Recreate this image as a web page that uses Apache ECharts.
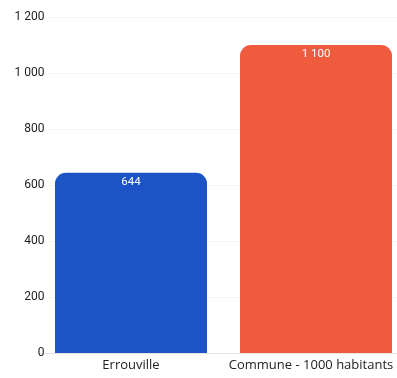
<!DOCTYPE html>
<html>
<head>
<meta charset="UTF-8">
<script type="text/javascript" src="https://cdn.jsdelivr.net/npm/echarts@6/dist/echarts.min.js"></script>
<title>Errouville</title>
<style>body{margin:0;background:#fff;}</style>
</head>
<body>
	<div id="main" style="width:397px;height:378px;"></div>
	<script type="text/javascript">
		var categories = ['Errouville', 'Commune - 1000 habitants'];
		var values = [644, 1100];
		var barColors = ['#1c54c6', '#ee5b3d'];
		var yTicks = [0, 200, 400, 600, 800, 1000, 1200];

		function fmt(v) {
			return String(v).replace(/\B(?=(\d{3})+(?!\d))/g, ' ');
		}

		var myChart = echarts.init(document.getElementById('main'));
		var option = {
			animation: false,
			grid: { left: 38.5, top: 17, right: -11.5, bottom: 25, outerBoundsMode: 'none', containLabel: false },
			xAxis: {
				type: 'category',
				// last label nudged left so it stays inside the canvas
				data: categories.map(function (c, i) {
					return i === categories.length - 1 ? { value: c, textStyle: { padding: [0, 10, 0, 0] } } : c;
				}),
				axisTick: { show: false },
				axisLine: { lineStyle: { color: '#e6e6e6' } },
				axisLabel: {
					interval: 0, hideOverlap: false,
					color: '#222', fontSize: 13, fontFamily: 'Open Sans', margin: 6
				}
			},
			yAxis: {
				type: 'value',
				min: yTicks[0],
				max: yTicks[yTicks.length - 1],
				interval: 200,
				axisLine: { show: false },
				axisTick: { show: false },
				splitLine: { lineStyle: { color: '#f5f5f5' } },
				axisLabel: {
					color: '#222', fontSize: 12, fontFamily: 'Roboto', margin: -6,
					formatter: function (v) { return fmt(v); }
				}
			},
			series: [{
				type: 'bar',
				barWidth: 152,
				data: values.map(function (v, i) {
					return { value: v, itemStyle: { color: barColors[i] } };
				}),
				itemStyle: { borderRadius: [11, 11, 0, 0] },
				label: {
					show: true,
					position: 'insideTop',
					distance: 3,
					color: '#fff',
					fontSize: 11.5,
					fontFamily: 'Roboto',
					formatter: function (p) { return fmt(p.value); }
				}
			}]
		};
		myChart.setOption(option);
	</script>
</body>
</html>
